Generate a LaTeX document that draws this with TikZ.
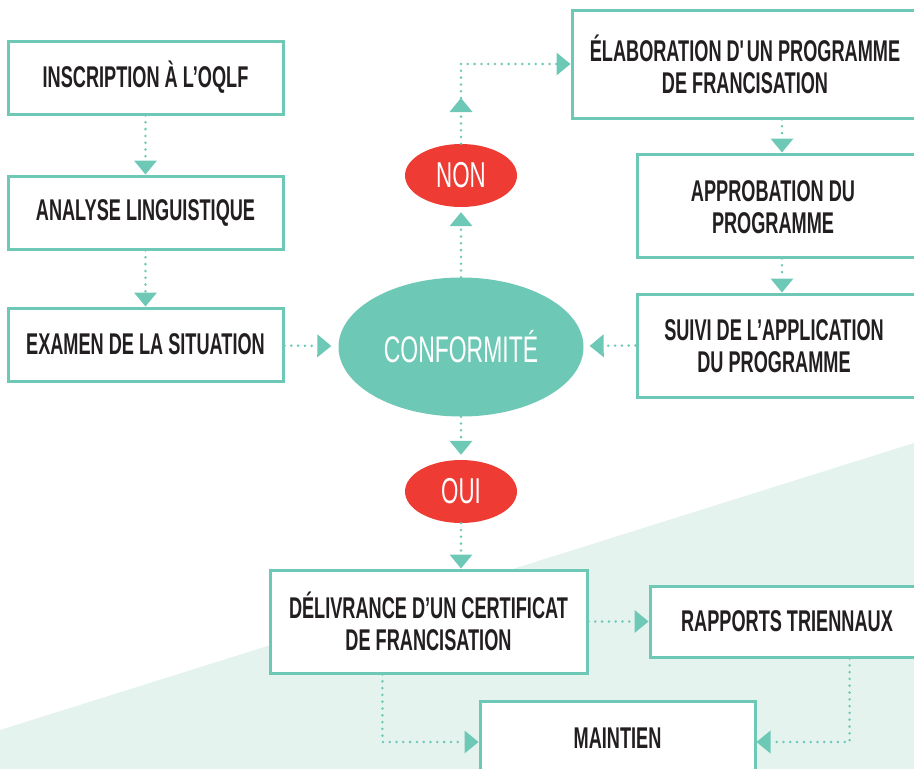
\documentclass[tikz,border=0pt]{standalone}
\usepackage{fontspec}
\usetikzlibrary{arrows.meta,shapes.geometric,calc}
\newfontfamily\condfont[FakeStretch=0.605]{Liberation Sans Bold}
\newfontfamily\ovalfont[FakeStretch=0.62]{Liberation Sans}
\definecolor{teal}{RGB}{110,200,182}
\definecolor{redc}{RGB}{238,59,51}
\definecolor{ink}{RGB}{35,31,32}
\definecolor{mint}{RGB}{228,243,238}
\tikzset{
  box/.style={draw=teal, line width=3pt, fill=white, inner sep=0pt, align=center,
    text=ink, font=\condfont\fontsize{30}{32}\selectfont},
  txt/.style={inner sep=0pt, align=center, text=ink, font=\condfont\fontsize{30}{32}\selectfont},
  conn/.style={draw=teal, line width=2.8pt, line cap=round, dash pattern=on 0pt off 6.8pt,
    -{Triangle[width=23pt,length=14pt,line width=0pt]}, color=teal},
  bigoval/.style={ellipse, fill=teal, inner sep=0pt, minimum width=245pt, minimum height=139pt,
    text=white, font=\ovalfont\fontsize{37}{38}\selectfont},
  redoval/.style={ellipse, fill=redc, inner sep=0pt, minimum width=112pt, minimum height=63pt,
    text=white, font=\ovalfont\fontsize{36}{36}\selectfont},
}
\begin{document}
\begin{tikzpicture}[x=1pt,y=-1pt]
\useasboundingbox (0,0) rectangle (914,769);
\clip (0,0) rectangle (914,769);
\fill[mint] (0,730) -- (914,443) -- (914,769) -- (0,769) -- cycle;

% left column
\node[box, minimum width=275pt, minimum height=73pt] (ins) at (145.5,77.5) {INSCRIPTION À L’OQLF};
\node[box, minimum width=275pt, minimum height=73pt] (ana) at (145.5,212.5) {ANALYSE LINGUISTIQUE};
\node[box, minimum width=275pt, minimum height=73pt] (exa) at (145.5,344.5) {EXAMEN DE LA SITUATION};

% centre
\node[bigoval] (conf) at (461,347) {CONFORMITÉ};
\node[redoval] (non) at (461,175.5) {NON};
\node[redoval] (oui) at (461,491.5) {OUI};

% right column
\node[box, minimum width=346pt, minimum height=108pt] (elab) at (745,64) {ÉLABORATION D\textquotesingle UN PROGRAMME\\DE FRANCISATION};
\node[box, minimum width=290pt, minimum height=103pt] (appr) at (782,205.5) {};
\node[txt] (apprT) at (773,207) {APPROBATION DU\\PROGRAMME};
\node[box, minimum width=290pt, minimum height=103pt] (suiv) at (782,345.5) {};
\node[txt] (suivT) at (774,346) {SUIVI DE L’APPLICATION\\DU PROGRAMME};

% bottom
\node[box, minimum width=317pt, minimum height=103pt] (del) at (428.5,621.5) {DÉLIVRANCE D’UN CERTIFICAT\\DE FRANCISATION};
\node[box, minimum width=274pt, minimum height=71pt] (rap) at (787,621.5) {RAPPORTS TRIENNAUX};
\node[box, minimum width=275pt, minimum height=74pt] (main) at (617.5,738) {MAINTIEN};

\coordinate (c1) at (461,98);
\coordinate (dA) at ($(del.south west)!0.356!(del.south east)$);
\coordinate (rA) at ($(rap.south west)!0.726!(rap.south east)$);
\coordinate (mW) at ([yshift=-4pt]main.west);
\coordinate (mE) at ([yshift=-4pt]main.east);

% connectors
\draw[conn] (ins) -- (ana);
\draw[conn] (ana) -- (exa);
\draw[conn, shorten >=7pt] (exa) -- (conf);
\draw[conn, shorten >=5pt] (conf) -- (non);
\draw[conn] (non) -- (c1);
\draw[conn] (c1) |- (elab.west);
\draw[conn] (appr.north |- elab.south) -- (appr.north);
\draw[conn] (appr) -- (suiv);
\draw[conn, shorten >=6pt] (suiv.west) -- (conf);
\draw[conn, shorten >=5pt] (conf) -- (oui);
\draw[conn] (oui.south) -- (oui.south |- del.north);
\draw[conn] (del.east) -- (del.east -| rap.west);
\draw[conn] (dA) |- (mW);
\draw[conn] (rA) |- (mE);
\end{tikzpicture}
\end{document}
